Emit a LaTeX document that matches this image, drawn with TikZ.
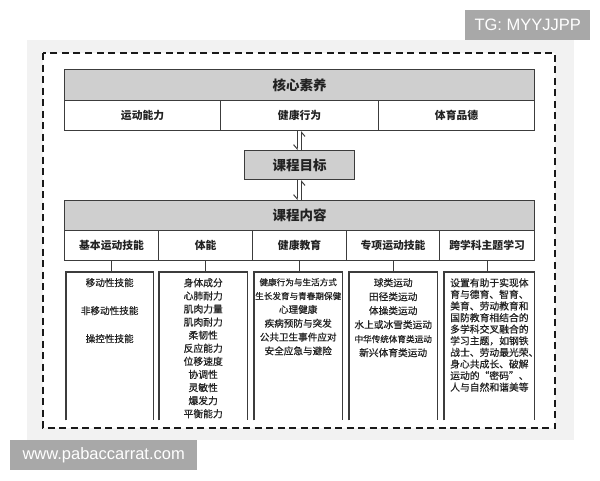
\documentclass[tikz,border=0pt]{standalone}
\usepackage{fontspec}
\setmainfont{Noto Sans CJK SC}
\newfontfamily\midfont{Noto Sans CJK SC}[FakeBold=0.5]
\newfontfamily\wmfont{Liberation Sans}
\usetikzlibrary{arrows.meta,calc}
\definecolor{linec}{HTML}{3C3C3C}
\definecolor{hdrfill}{HTML}{CFCFCF}
\definecolor{panel}{HTML}{F2F2F2}
\definecolor{wmgray}{HTML}{A8A8A8}
\definecolor{txt}{HTML}{222222}
\begin{document}
\begin{tikzpicture}[x=1pt,y=-1pt,
  cellbox/.style={draw=linec, line width=1.1pt, inner sep=0pt, anchor=north west, text=txt},
  hdrbox/.style={cellbox, fill=hdrfill, font=\fontsize{13.5}{16}\selectfont\bfseries},
  rowbox/.style={cellbox, fill=white, font=\fontsize{10.8}{13}\selectfont\bfseries},
  coltext/.style={inner sep=0pt, anchor=north, text=txt, align=center},
  colline/.style={draw=linec, line width=1.1pt},
  link/.style={draw=linec, line width=1.1pt},
  harpdown/.style={draw=linec, line width=1pt, -{Straight Barb[harpoon,swap,length=4pt,width=7pt]}},
  wmbox/.style={fill=wmgray, text=white, inner sep=0pt, anchor=north west, font=\wmfont\fontsize{16.5}{18}\selectfont}
]
\useasboundingbox (0,0) rectangle (600,480);
\fill[white] (0,0) rectangle (600,480);
% panel and dashed frame
\fill[panel] (27,40) rectangle (574,440);
\coordinate (fr1) at (43,53);
\coordinate (fr2) at (555,428);
\fill[white] (fr1) rectangle (fr2);
% top block
\node[hdrbox, minimum width=470pt, minimum height=31pt] (hx) at (64,69) {核心素养};
\node[rowbox, minimum width=156pt, minimum height=30pt] (a1) at (64,100) {运动能力};
\node[rowbox, minimum width=158pt, minimum height=30pt] (a2) at (220,100) {健康行为};
\node[rowbox, minimum width=156pt, minimum height=30pt] (a3) at (378,100) {体育品德};
% goal
\node[hdrbox, minimum width=110pt, minimum height=29pt] (goal) at (244,150) {课程目标};
% content block
\node[hdrbox, minimum width=470pt, minimum height=30pt] (cx) at (64,200) {课程内容};
\node[rowbox, minimum width=94pt, minimum height=30pt] (b1) at (64,230) {基本运动技能};
\node[rowbox, minimum width=94pt, minimum height=30pt] (b2) at (158,230) {体能};
\node[rowbox, minimum width=94pt, minimum height=30pt] (b3) at (252,230) {健康教育};
\node[rowbox, minimum width=93pt, minimum height=30pt] (b4) at (346,230) {专项运动技能};
\node[rowbox, minimum width=95pt, minimum height=30pt] (b5) at (439,230) {跨学科主题学习};
% arrows
\draw[harpdown] ([xshift=-2.5pt]a2.south) -- ([xshift=-2.5pt]goal.north);
\draw[harpdown] ([xshift=2pt]goal.north) -- ([xshift=2pt]a2.south);
\draw[harpdown] ([xshift=-2.5pt]goal.south) -- ([xshift=-2.5pt]cx.north);
\draw[harpdown] ([xshift=2pt]cx.north) -- ([xshift=2pt]goal.south);
% column boxes (open at the bottom)
\node[inner sep=0pt, minimum width=87pt, minimum height=148pt, anchor=north west] (c1) at (66,272) {};
\node[inner sep=0pt, minimum width=88pt, minimum height=148pt, anchor=north west] (c2) at (159,272) {};
\node[inner sep=0pt, minimum width=88pt, minimum height=148pt, anchor=north west] (c3) at (254,272) {};
\node[inner sep=0pt, minimum width=88pt, minimum height=148pt, anchor=north west] (c4) at (349,272) {};
\node[inner sep=0pt, minimum width=90pt, minimum height=148pt, anchor=north west] (c5) at (444,272) {};
\foreach \c in {c1,c2,c3,c4,c5}{
  \draw[colline] (\c.south west) -- (\c.north west) -- (\c.north east) -- (\c.south east);
}
% connectors
\draw[link] (b1.south) -- (b1.south |- c1.north);
\draw[link] (b2.south) -- (b2.south |- c2.north);
\draw[link] (b3.south) -- (b3.south |- c3.north);
\draw[link] (b4.south) -- (b4.south |- c4.north);
\draw[link] (b5.south) -- (b5.south |- c5.north);
% column texts
\node[coltext, font=\midfont\fontsize{9.6}{28}\selectfont] (t1) at ($(c1.north)+(0,6)$) {移动性技能\\非移动性技能\\操控性技能};
\node[coltext, font=\midfont\fontsize{9.8}{13.1}\selectfont] (t2) at ($(c2.north)+(0,6)$) {身体成分\\心肺耐力\\肌肉力量\\肌肉耐力\\柔韧性\\反应能力\\位移速度\\协调性\\灵敏性\\爆发力\\平衡能力};
\node[coltext, font=\midfont\fontsize{9.6}{13.8}\selectfont] (t3) at ($(c3.north)+(0,6)$) {{\fontsize{8.6}{13.8}\selectfont 健康行为与生活方式}\\{\fontsize{8.6}{13.8}\selectfont 生长发育与青春期保健}\\心理健康\\疾病预防与突发\\公共卫生事件应对\\安全应急与避险};
\node[coltext, font=\midfont\fontsize{9.7}{14}\selectfont] (t4) at ($(c4.north)+(0,6)$) {球类运动\\田径类运动\\体操类运动\\水上或冰雪类运动\\{\fontsize{8.6}{14}\selectfont 中华传统体育类运动}\\新兴体育类运动};
\node[coltext, anchor=north west, align=left, font=\midfont\fontsize{9.8}{11.6}\selectfont] (t5) at ($(c5.north west)+(6,6)$) {设置有助于实现体\\育与德育、智育、\\美育、劳动教育和\\国防教育相结合的\\多学科交叉融合的\\学习主题，如钢铁\\战士、劳动最光荣、\\身心共成长、破解\\运动的“密码”、\\人与自然和谐美等};
% dashed frame on top
\draw[draw=black!90, line width=2.2pt, dash pattern=on 7pt off 4.5pt] (fr1) rectangle (fr2);
% watermarks
\node[wmbox, minimum width=125pt, minimum height=30pt] (wm1) at (465,10) {TG: MYYJJPP};
\node[wmbox, minimum width=187pt, minimum height=30pt] (wm2) at (10,440) {www.pabaccarrat.com};
\end{tikzpicture}
\end{document}
